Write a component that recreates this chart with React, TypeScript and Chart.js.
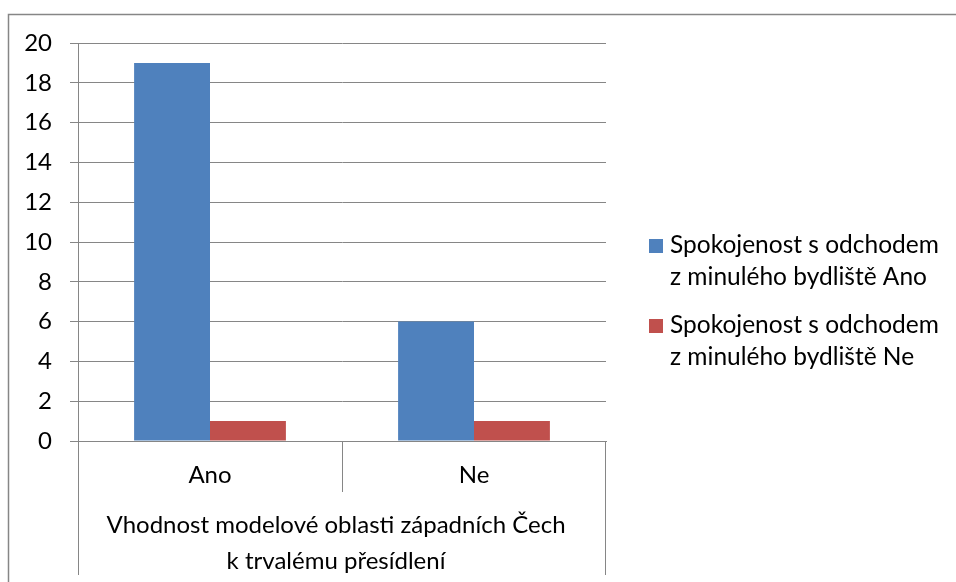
import React, { useEffect, useRef } from "react";
import { Chart, registerables } from "chart.js";

Chart.register(...registerables);

const categories = ["Ano", "Ne"];
const seriesLabels = [
  "Spokojenost s odchodem z minulého bydliště Ano",
  "Spokojenost s odchodem z minulého bydliště Ne",
];
const legendLines = [
  ["Spokojenost s odchodem", "z minulého bydliště Ano"],
  ["Spokojenost s odchodem", "z minulého bydliště Ne"],
];
const valuesAno = [19, 6];
const valuesNe = [1, 1];
const groupLabelLines = ["Vhodnost modelové oblasti západních Čech", "k trvalému přesídlení"];
const yMin = 0;
const yMax = 20;
const yStep = 2;

const BLUE = "#4F81BD";
const RED = "#C0504D";
const GRID = "#868686";
const FONT = "Lato";
const FS = 24;

const decorPlugin = {
  id: "decor",
  beforeDraw(chart: any) {
    const ctx = chart.ctx;
    ctx.save();
    ctx.strokeStyle = GRID;
    ctx.lineWidth = 1.5;
    ctx.beginPath();
    ctx.moveTo(8.5, 1000);
    ctx.lineTo(8.5, 14.5);
    ctx.lineTo(1000, 14.5);
    ctx.stroke();
    ctx.restore();
  },
  afterDraw(chart: any) {
    const ctx = chart.ctx;
    const x = chart.scales.x;
    const area = chart.chartArea;
    ctx.save();
    ctx.strokeStyle = GRID;
    ctx.lineWidth = 1;
    const mid = (x.getPixelForValue(0) + x.getPixelForValue(1)) / 2;
    const lines = [
      [Math.round(area.left) + 0.5, 575],
      [Math.round(mid) + 0.5, 492],
      [Math.round(area.right) - 0.5, 575],
    ];
    lines.forEach(([px, y2]) => {
      ctx.beginPath();
      ctx.moveTo(px, area.bottom);
      ctx.lineTo(px, y2);
      ctx.stroke();
    });
    ctx.fillStyle = "#000";
    ctx.font = `${FS}px ${FONT}`;
    ctx.textAlign = "center";
    ctx.textBaseline = "alphabetic";
    const cx = (area.left + area.right) / 2 - 6;
    ctx.fillText(groupLabelLines[0], cx, 533);
    ctx.fillText(groupLabelLines[1], cx, 569);
    ctx.textAlign = "left";
    ctx.font = `24.5px ${FONT}`;
    chart.data.datasets.forEach((ds: any, i: number) => {
      const base = 253 + i * 80;
      ctx.fillStyle = ds.backgroundColor;
      ctx.fillRect(649, base - 14, 14, 14);
      ctx.fillStyle = "#000";
      legendLines[i].forEach((t, j) => ctx.fillText(t, 670, base + j * 32));
    });
    ctx.restore();
  },
};

export default function App() {
  const ref = useRef<HTMLCanvasElement>(null);
  useEffect(() => {
    if (!ref.current) return;
    const chart = new Chart(ref.current, {
      type: "bar",
      data: {
        labels: categories,
        datasets: [
          { label: seriesLabels[0], data: valuesAno, backgroundColor: BLUE, borderWidth: 0 },
          { label: seriesLabels[1], data: valuesNe, backgroundColor: RED, borderWidth: 0 },
        ],
      },
      options: {
        animation: false,
        responsive: false,
        devicePixelRatio: 1,
        datasets: { bar: { categoryPercentage: 0.575, barPercentage: 1 } },
        layout: { padding: { left: 0, top: 43, right: 350, bottom: 0 } },
        plugins: { legend: { display: false }, tooltip: { enabled: false } },
        scales: {
          x: {
            afterFit: (s: any) => { s.height = 141; },
            grid: { display: false, drawTicks: false },
            border: { display: true, color: GRID },
            ticks: { color: "#000", font: { family: FONT, size: FS }, padding: 20 },
          },
          y: {
            min: yMin,
            max: yMax,
            afterFit: (s: any) => { s.width = 78; },
            grid: { color: GRID, tickLength: 8 },
            border: { display: true, color: GRID },
            ticks: { stepSize: yStep, color: "#000", font: { family: FONT, size: FS }, padding: 18 },
          },
        },
      },
      plugins: [decorPlugin],
    });
    return () => chart.destroy();
  }, []);
  return (
    <div style={{ position: "absolute", left: 0, top: 0, width: 956, height: 582, background: "#fff" }}>
      <canvas ref={ref} width={956} height={582} />
    </div>
  );
}
